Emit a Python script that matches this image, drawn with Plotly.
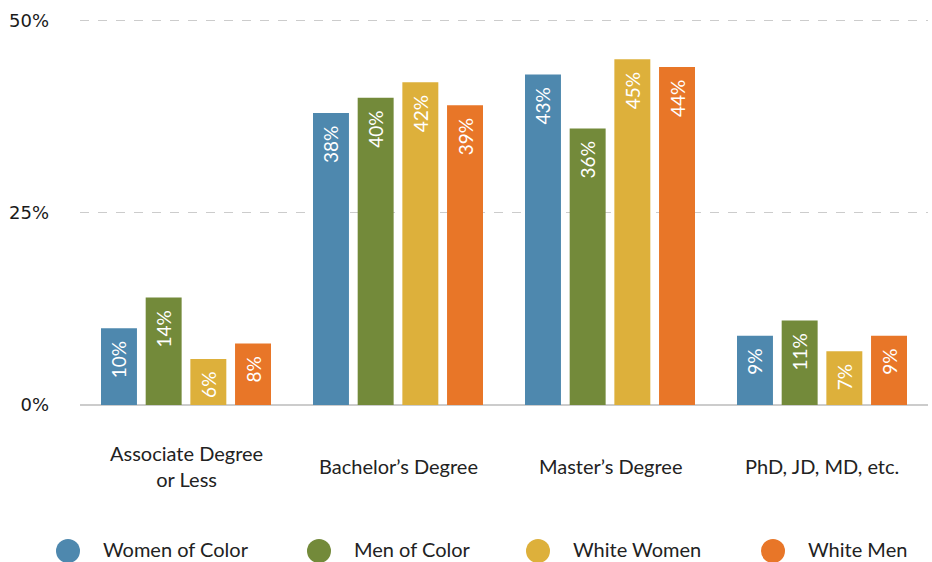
import plotly.graph_objects as go

categories = ["Associate Degree<br>or Less", "Bachelor’s Degree", "Master’s Degree", "PhD, JD, MD, etc."]
series_names = ["Women of Color", "Men of Color", "White Women", "White Men"]
women_of_color = [10, 38, 43, 9]
men_of_color = [14, 40, 36, 11]
white_women = [6, 42, 45, 7]
white_men = [8, 39, 44, 9]
colors = ["#4E88AE", "#738A3A", "#DDB03B", "#E87628"]
y_ticks = [0, 25, 50]
y_tick_labels = ["0%", "25%", "50%"]

series_values = [women_of_color, men_of_color, white_women, white_men]

FONT = "Lato"
W, H = 932, 562
ML, MR, MT, MB = 80, 4, 17, 157
PW = W - ML - MR
PH = H - MT - MB

fig = go.Figure()
for name, vals, col in zip(series_names, series_values, colors):
    fig.add_trace(go.Bar(
        x=categories, y=vals, name=name, marker=dict(color=col, line=dict(width=0)),
        text=[f"{v}%\u00a0\u00a0" for v in vals],
        textposition="inside", insidetextanchor="end", textangle=-90,
        textfont=dict(family=FONT, size=19, color="white"),
        showlegend=False, hoverinfo="skip",
    ))

# category labels (vertically centred like the original)
for c in categories:
    fig.add_annotation(x=c, xref="x", y=(405 - 466) / PH, yref="paper",
                       text=c, showarrow=False, yanchor="middle", xanchor="center",
                       font=dict(family=FONT, size=20, color="#222222"))

# custom legend
legend_x = [68, 319, 538, 773]
for name, col, lx in zip(series_names, colors, legend_x):
    px = (lx - ML) / PW
    py = (405 - 551) / PH
    fig.add_shape(type="circle", xref="paper", yref="paper",
                  xsizemode="pixel", ysizemode="pixel", xanchor=px, yanchor=py,
                  x0=-12, x1=12, y0=-12, y1=12,
                  fillcolor=col, line=dict(width=0), layer="above")
    fig.add_annotation(x=(lx + 33 - ML) / PW, xref="paper", y=(405 - 549) / PH, yref="paper",
                       text=name, showarrow=False, xanchor="left", yanchor="middle",
                       font=dict(family=FONT, size=20, color="#222222"))

fig.update_layout(
    width=W, height=H,
    margin=dict(l=ML, r=MR, t=MT, b=MB),
    plot_bgcolor="white", paper_bgcolor="white",
    barmode="group", bargap=0.157, bargroupgap=0.195,
    font=dict(family=FONT, color="#222222"),
    xaxis=dict(showticklabels=False, showgrid=False, zeroline=False, showline=False,
               ticks=""),
    yaxis=dict(range=[0, 50.5], tickvals=y_ticks, ticktext=y_tick_labels,
               showgrid=True, gridcolor="#cccccc", griddash="dash", gridwidth=1,
               zeroline=True, zerolinecolor="#cccccc", zerolinewidth=2,
               showline=False, ticks="", ticklabelstandoff=30,
               tickfont=dict(family="DejaVu Sans", size=18, color="#1a1a1a")),
)

fig.write_html("out.html", config={"displayModeBar": False},
               post_script="document.body.style.margin='0';document.body.style.overflow='hidden';")
